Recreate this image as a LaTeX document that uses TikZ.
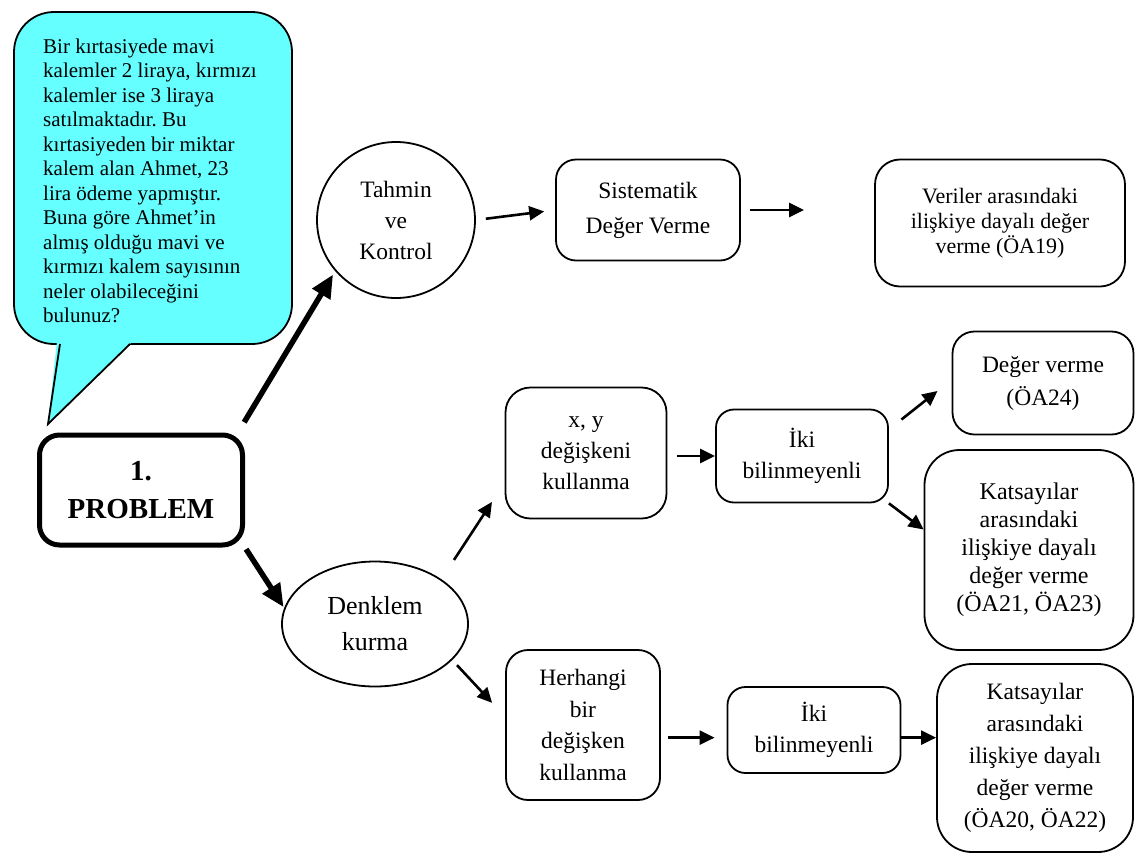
\documentclass[tikz,border=0pt]{standalone}
\usepackage{fontspec}
\setmainfont{Liberation Serif}
\usetikzlibrary{shapes.geometric,arrows.meta}
\definecolor{balonmavi}{RGB}{102,255,255}
\newcommand{\yazi}[2]{\fontsize{#1}{#2}\selectfont}
\frenchspacing
\tikzset{
  kutu/.style={draw, line width=1.8pt, rounded corners=#1, align=center, inner sep=0pt, font=\yazi{23.5}{31}},
  kutu/.default=20pt,
  oval/.style={draw, line width=1.8pt, ellipse, align=center, inner sep=0pt, font=\yazi{23.5}{31}},
  ok/.style={-{Triangle[length=15pt,width=14pt]}, line width=2.6pt},
  kalinok/.style={-{Triangle[length=23pt,width=20pt]}, line width=5.5pt},
}
\begin{document}
\begin{tikzpicture}[x=1pt,y=-1pt]
  \useasboundingbox (0,0) rectangle (1136,855);
  % soru balonu
  \draw[line width=1.8pt, fill=balonmavi, rounded corners=40pt] (14,12) rectangle (292,344);
  \fill[balonmavi] (57,341) -- (48,424) -- (133,341) -- cycle;
  \draw[line width=1.8pt, line join=miter] (60,344) -- (48,424) -- (130,344);
  \node[anchor=west, align=left, inner sep=0pt, font=\yazi{21}{24.5}] (soru) at (43,181)
    {Bir kırtasiyede mavi\\kalemler 2 liraya, kırmızı\\kalemler ise 3 liraya\\satılmaktadır. Bu\\
     kırtasiyeden bir miktar\\kalem alan Ahmet, 23\\lira ödeme yapmıştır.\\Buna göre Ahmet’in\\
     almış olduğu mavi ve\\kırmızı kalem sayısının\\neler olabileceğini\\bulunuz?};

  \node[kutu, line width=5pt, minimum width=203pt, minimum height=110pt, font=\bfseries\yazi{29}{38}] (prob) at (141,490) {1.\\PROBLEM};

  % tahmin ve kontrol kolu
  \node[oval, minimum width=158pt, minimum height=156pt] (tahmin) at (396,220) {Tahmin\\ve\\Kontrol};
  \node[kutu, minimum width=184pt, minimum height=101pt, font=\yazi{23.5}{35}] (sistem) at (648,210) {Sistematik\\Değer Verme};
  \node[kutu=25pt, minimum width=250pt, minimum height=127pt, font=\yazi{22}{25}] (veriler) at (1000,223)
    {Veriler arasındaki\\ilişkiye dayalı değer\\verme (ÖA19)};

  % denklem kurma kolu
  \node[oval, minimum width=186pt, minimum height=125pt, font=\yazi{26}{36}] (den) at (375,624) {Denklem\\kurma};
  \node[kutu=25pt, minimum width=161pt, minimum height=131pt] (xy) at (586,453) {x, y\\değişkeni\\kullanma};
  \node[kutu=18pt, minimum width=172pt, minimum height=93pt] (iki1) at (802,456) {İki\\bilinmeyenli};
  \node[kutu=22pt, minimum width=181pt, minimum height=103pt, font=\yazi{23.5}{33}] (deger) at (1043,383) {Değer verme\\(ÖA24)};
  \node[kutu=35pt, minimum width=209pt, minimum height=200pt, font=\yazi{24}{28}] (kat1) at (1029,550)
    {Katsayılar\\arasındaki\\ilişkiye dayalı\\değer verme\\(ÖA21, ÖA23)};
  \node[kutu=22pt, minimum width=154pt, minimum height=150pt, font=\yazi{23.5}{31.7}] (herh) at (583,725)
    {Herhangi\\bir\\değişken\\kullanma};
  \node[kutu=18pt, minimum width=173pt, minimum height=86pt] (iki2) at (814,730) {İki\\bilinmeyenli};
  \node[kutu=35pt, minimum width=196pt, minimum height=188pt, font=\yazi{23.5}{32}] (kat2) at (1035,758)
    {Katsayılar\\arasındaki\\ilişkiye dayalı\\değer verme\\(ÖA20, ÖA22)};

  % oklar
  \draw[kalinok, shorten <=12pt, shorten >=4pt] ([xshift=-7pt]prob.north east) -- (tahmin.220);
  \draw[kalinok, shorten <=2pt, shorten >=1pt] (prob.south east) -- (den.170);
  \draw[ok, shorten <=10pt, shorten >=11pt] (tahmin.east) -- (sistem.west);
  \draw[ok, shorten <=9pt, shorten >=70pt] (sistem.east) -- (sistem.east -| veriler.west);
  \draw[ok, shorten <=23pt, shorten >=23pt] (den.north east) -- (xy.200);
  \draw[ok, shorten <=7pt, shorten >=19pt] (den.-25) -- (herh.174);
  \draw[ok, shorten <=10pt] (xy.east |- iki1.west) -- (iki1.west);
  \draw[ok, shorten <=16pt, shorten >=18pt] (iki1.17) -- (deger.178);
  \draw[ok] (iki1.south east) -- (kat1.169);
  \draw[ok, shorten <=7pt, shorten >=12pt] (herh.east |- iki2.185) -- (iki2.185);
  \draw[ok] (iki2.-5) -- (kat2.west |- iki2.-5);
\end{tikzpicture}
\end{document}
